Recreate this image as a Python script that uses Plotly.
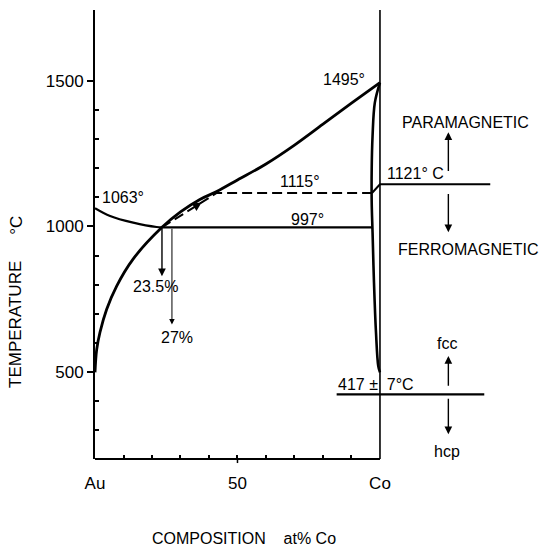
import plotly.graph_objects as go

# ---------------- data ----------------
# Au-side liquidus (1063 deg at pure Au down to the 997 deg minimum)
au_liq_x = [0, 5.3, 13.4, 21.6, 23.5]
au_liq_T = [1063, 1036, 1013, 998, 997]
# large boundary curve from the Au side up to Co melting point
curve_x = [0, 0.6, 1.75, 4.1, 7.6, 13.3, 23.5, 30, 36.8, 42.7, 50, 60, 70, 80, 90, 100]
curve_T = [498, 577, 636, 715, 795, 887, 997, 1050, 1093, 1120, 1160, 1215, 1280, 1352, 1424, 1495]
# Co-side boundary
co_sol_x = [100, 98.2, 97.4, 97.1, 97.1, 97.4, 97.9, 98.6, 99.4, 100]
co_sol_T = [1495, 1426, 1311, 1197, 1083, 980, 808, 636, 520, 498]
# horizontal 997 deg line
eut_x = [23.5, 97.2]
eut_T = [997, 997]
# dashed 1115 deg line
dash_x = [23.5, 42.7, 97.2]
dash_T = [997, 1115, 1115]
# Curie line (1121 C) on Co side
curie_x = [97.2, 100, 138.7]
curie_T = [1115, 1145, 1145]
# fcc / hcp transition line (417 +- 7 C)
fcc_x = [84.8, 136.6]
fcc_T = [422, 422]

# arrows: tail x, tail T, head x, head T, width
arrow_tail_x = [23.5, 27, 124, 124, 124, 124, 34.5]
arrow_tail_T = [997, 997, 1186, 1117, 447, 412, 1064]
arrow_head_x = [23.5, 27, 124, 124, 124, 124, 37.4]
arrow_head_T = [829, 663, 1324, 980, 554, 285, 1082]
arrow_w = [1.4, 1.0, 1.4, 1.4, 1.4, 1.4, 1.6]

# text labels
label_text = ["1495°", "1063°", "1115°", "997°", "1121° C", "PARAMAGNETIC", "FERROMAGNETIC",
              "fcc", "hcp", "417 ±\u00a0\u00a07°C", "23.5%", "27%"]
label_x = [95.4, 1.7, 71.9, 74.6, 101.8, 130.1, 131.0, 123.5, 123.5, 84.6, 21.1, 28.9]
label_T = [1505, 1098, 1153, 1024, 1183, 1358, 921, 598, 227, 457, 792, 617]
label_anchor = ["right", "left", "center", "center", "left", "center", "center",
                "center", "center", "left", "center", "center"]

# axis ticks
x_tickvals = [0, 50, 100]
x_ticktext = ["Au", "50", "Co"]
x_minor = [10, 20, 30, 40, 50, 60, 70, 80, 90]
y_tickvals = [500, 1000, 1500]
y_minor = [300, 400, 600, 700, 800, 900, 1100, 1200, 1300, 1400]

FONT = "Liberation Sans"
INK = "#000000"

fig = go.Figure()

def add_line(x, y, width, dash=None, shape="linear"):
    fig.add_trace(go.Scatter(x=x, y=y, mode="lines",
                             line=dict(color=INK, width=width, dash=dash, shape=shape,
                                       smoothing=1.0),
                             hoverinfo="skip", showlegend=False))

add_line(au_liq_x, au_liq_T, 2.2, shape="spline")
add_line(curve_x, curve_T, 2.8, shape="spline")
add_line(co_sol_x, co_sol_T, 2.6, shape="spline")
add_line(eut_x, eut_T, 2.2)
add_line(dash_x, dash_T, 2.0, dash="10px,5px")
add_line(curie_x, curie_T, 2.0)
add_line(fcc_x, fcc_T, 2.2)

annotations = []
for tx, tT, hx, hT, w in zip(arrow_tail_x, arrow_tail_T, arrow_head_x, arrow_head_T, arrow_w):
    annotations.append(dict(x=hx, y=hT, ax=tx, ay=tT, xref="x", yref="y",
                            axref="x", ayref="y", text="", showarrow=True,
                            arrowhead=2, arrowsize=1.1, arrowwidth=w, arrowcolor=INK))

for t, x, y, a in zip(label_text, label_x, label_T, label_anchor):
    annotations.append(dict(x=x, y=y, xref="x", yref="y", text=t, showarrow=False,
                            xanchor=a, yanchor="middle",
                            font=dict(family=FONT, size=16, color=INK)))

# axis titles
annotations.append(dict(x=-0.182, y=0.30, xref="paper", yref="paper", text="TEMPERATURE",
                        textangle=-90, showarrow=False, xanchor="center", yanchor="middle",
                        font=dict(family=FONT, size=17, color=INK)))
annotations.append(dict(x=-0.182, y=0.521, xref="paper", yref="paper", text="°C",
                        textangle=-90, showarrow=False, xanchor="center", yanchor="middle",
                        font=dict(family=FONT, size=17, color=INK)))
annotations.append(dict(x=0.3425, y=-0.178, xref="paper", yref="paper",
                        text="COMPOSITION\u00a0\u00a0\u00a0\u00a0at%\u00a0Co",
                        showarrow=False, xanchor="center", yanchor="middle",
                        font=dict(family=FONT, size=16, color=INK)))

shapes = [
    # bottom axis from Au to Co
    dict(type="line", xref="x", yref="paper", x0=0, x1=100, y0=0, y1=0,
         line=dict(color=INK, width=2)),
    # Co vertical line
    dict(type="line", xref="x", yref="paper", x0=100, x1=100, y0=0, y1=1,
         line=dict(color=INK, width=1.6)),
    # lower part of the 50 tick
    dict(type="line", xref="x", yref="paper", x0=50, x1=50, y0=-0.009, y1=0,
         line=dict(color=INK, width=1.5)),
]

fig.update_layout(
    width=541, height=548,
    margin=dict(l=95, r=10, t=10, b=89),
    paper_bgcolor="white", plot_bgcolor="white",
    annotations=annotations, shapes=shapes,
    xaxis=dict(range=[0, 153.0], showgrid=False, zeroline=False, showline=False,
               tickvals=x_tickvals, ticktext=x_ticktext, ticks="",
               ticklabelstandoff=12,
               tickfont=dict(family=FONT, size=17, color=INK),
               minor=dict(tickvals=x_minor, ticks="inside", ticklen=4, tickwidth=1.5,
                          tickcolor=INK, showgrid=False)),
    yaxis=dict(range=[200, 1744.6], showgrid=False, zeroline=False, showline=True,
               linecolor=INK, linewidth=2,
               tickvals=y_tickvals, ticktext=[str(v) for v in y_tickvals],
               ticks="outside", ticklen=6, tickwidth=1.5, tickcolor=INK,
               tickfont=dict(family=FONT, size=17, color=INK),
               minor=dict(tickvals=y_minor, ticks="inside", ticklen=4, tickwidth=1.5,
                          tickcolor=INK, showgrid=False)),
)

fig.write_html("out.html",
               config={"displayModeBar": False},
               post_script="document.body.style.margin='0px';document.body.style.overflow='hidden';")
